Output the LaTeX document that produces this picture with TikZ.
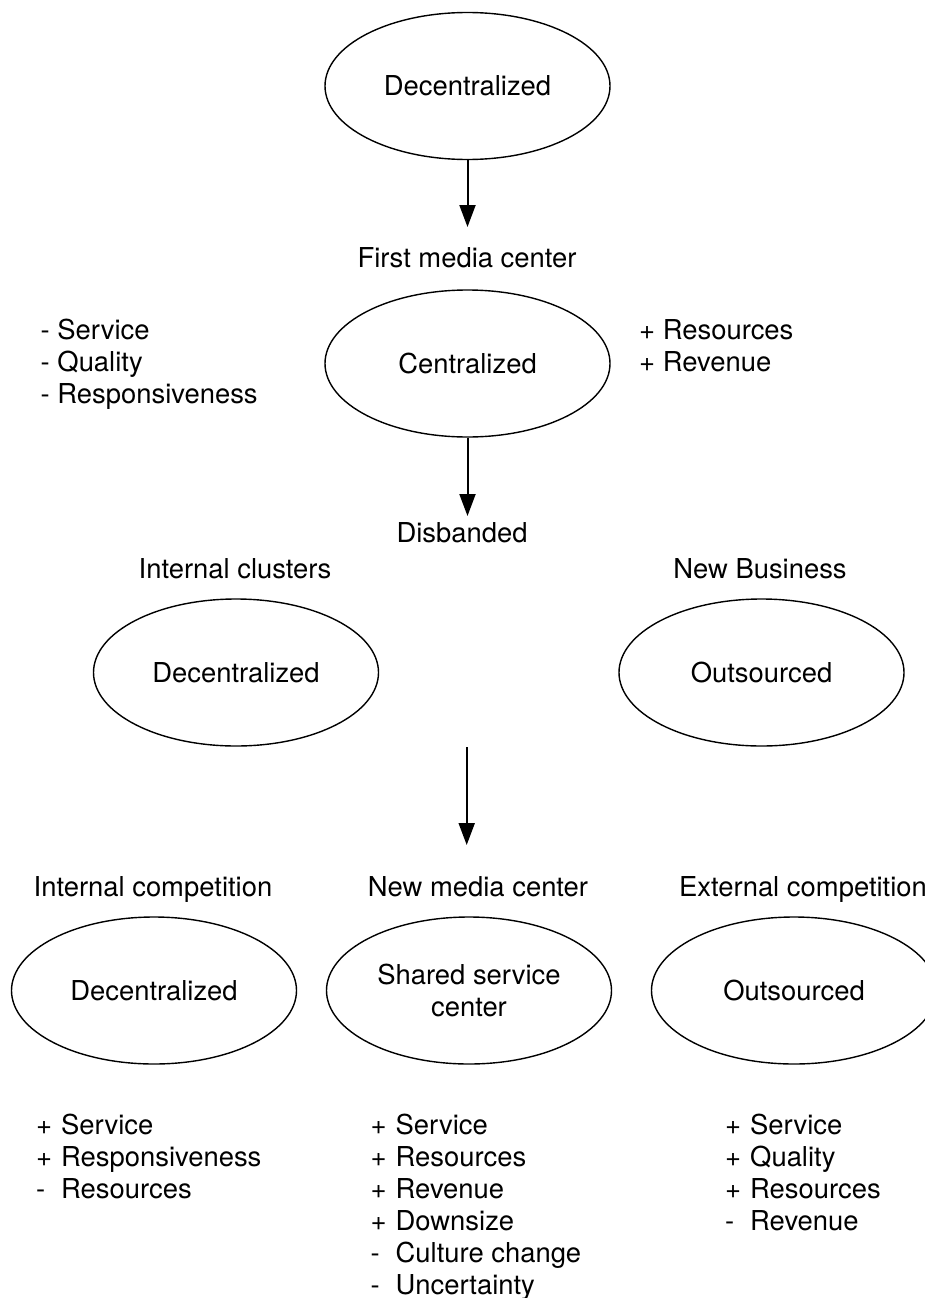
\documentclass[tikz,border=0pt]{standalone}
\usepackage{fontspec}
\setmainfont{TeX Gyre Heros}
\usetikzlibrary{shapes.geometric,arrows.meta}

\tikzset{
  txt/.style={font=\fontsize{27.4}{32}\selectfont, inner sep=0pt, text=black},
  oval/.style={ellipse, draw=black, line width=1.4pt, minimum width=285pt,
               minimum height=147pt, inner sep=0pt, align=center,
               font=\fontsize{27.4}{32}\selectfont},
  flow/.style={line width=2pt, -{Triangle[length=22pt,width=16pt]}},
}
\newcommand{\sgn}[1]{\makebox[25pt][l]{#1}}

\begin{document}
\begin{tikzpicture}[x=1pt,y=-1pt]
\useasboundingbox (0,0) rectangle (925,1298);
\clip (0,0) rectangle (925,1298);
\fill[white] (0,0) rectangle (925,1298);

% first stage
\node[oval] (top) at (467.5,86) {Decentralized};
\coordinate (topEnd) at (467.5,227);
\draw[flow] (top.south) -- (topEnd);

\node[txt, anchor=base] (firstlab) at (467,267.5) {First media center};
\node[oval] (central) at (467.5,363.5) {Centralized};
\foreach \t [count=\i] in {- Service,- Quality,- Responsiveness}
  \node[txt, anchor=base west] (cminus\i) at (40.5,339.5+32*\i-32) {\t};
\foreach \t [count=\i] in {+ Resources,+ Revenue}
  \node[txt, anchor=base west] (cplus\i) at (639,339.5+32*\i-32) {\t};
\coordinate (centralEnd) at (467.5,516);
\draw[flow] (central.south) -- (centralEnd);

% disbanded stage
\node[txt, anchor=base] (disb) at (462,542.5) {Disbanded};
\node[txt, anchor=base] (intcl) at (235,578.5) {Internal clusters};
\node[txt, anchor=base] (newbiz) at (760,578.5) {New Business};
\node[oval] (dec2) at (236,672.5) {Decentralized};
\node[oval] (out2) at (761.5,672.5) {Outsourced};

\coordinate (midStart) at (466.7,747);
\coordinate (midEnd) at (466.7,845);
\draw[flow] (midStart) -- (midEnd);

% final stage
\node[txt, anchor=base] (intcomp) at (153,896) {Internal competition};
\node[txt, anchor=base] (newmc) at (478,896) {New media center};
\node[txt, anchor=base west] (extcomp) at (679,896) {External competition};

\node[oval] (dec3) at (154,990.5) {Decentralized};
\node[oval] (ssc) at (469,990.5) {Shared service\\center};
\node[oval] (out3) at (794,990.5) {Outsourced};

\foreach \s/\t [count=\i] in {+/Service,+/Responsiveness,-/Resources}
  \node[txt, anchor=base west] (la\i) at (36,1134+32*\i-32) {\sgn{\s}\t};
\foreach \s/\t [count=\i] in {+/Service,+/Resources,+/Revenue,+/Downsize,-/Culture change,-/Uncertainty}
  \node[txt, anchor=base west] (lb\i) at (370.5,1134+32*\i-32) {\sgn{\s}\t};
\foreach \s/\t [count=\i] in {+/Service,+/Quality,+/Resources,-/Revenue}
  \node[txt, anchor=base west] (lc\i) at (725,1134+32*\i-32) {\sgn{\s}\t};
\end{tikzpicture}
\end{document}
